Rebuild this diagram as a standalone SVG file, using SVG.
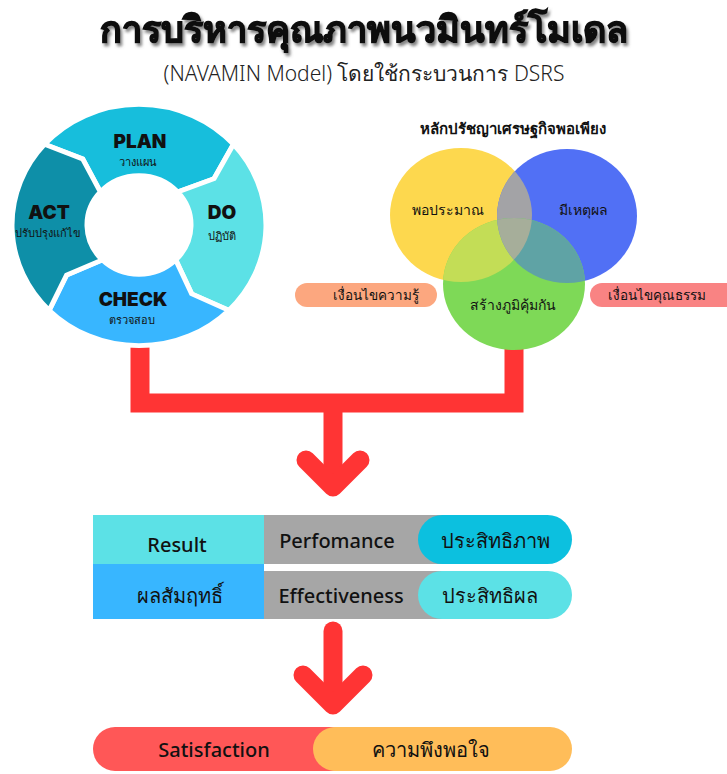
<svg xmlns="http://www.w3.org/2000/svg" width="727" height="774" viewBox="0 0 727 774">
<defs>
<style>
text{font-family:"Noto Sans","DejaVu Sans",sans-serif;fill:#111;text-anchor:middle}
.title{font-size:36px;font-weight:900;stroke:#111;stroke-width:1.3}
.sub{font-size:21px;font-weight:300;fill:#222}
.pd{font-family:Inter,"Noto Sans",sans-serif;font-weight:900;font-size:19px}
.pdt{font-size:11px}
.vt{font-size:15px;font-weight:800}
.vl{font-size:14px}
.pl{font-size:13.5px}
.tb{font-size:20px;font-weight:500}
.seg{stroke:#fff;stroke-width:5;stroke-linejoin:miter}
.red{fill:none;stroke:#FF3434;stroke-width:19}
</style>
<filter id="sh" x="-5%" y="-20%" width="110%" height="160%">
<feDropShadow dx="2" dy="3" stdDeviation="1.5" flood-color="#777" flood-opacity="0.9"/>
</filter>
<clipPath id="cy"><ellipse cx="461" cy="215" rx="71" ry="67"/></clipPath>
<clipPath id="cb"><ellipse cx="567" cy="216" rx="70" ry="67"/></clipPath>
<clipPath id="cg"><ellipse cx="514" cy="284" rx="71" ry="66"/></clipPath>
</defs>
<rect width="727" height="774" fill="#fff"/>

<g id="title">
<text class="title" x="364" y="42" filter="url(#sh)">การบริหารคุณภาพนวมินทร์โมเดล</text>
<text class="sub" x="364" y="81">(NAVAMIN Model) โดยใช้กระบวนการ DSRS</text>
</g>

<g id="connectors">
<path class="red" d="M140 335 V403 H514 V340" stroke-linejoin="miter"/>
<path class="red" d="M333 403 V480"/>
<path class="red" d="M306 460 L333 487 L360 460" stroke-linecap="round" stroke-linejoin="round"/>
<path class="red" d="M333 631 V700" stroke-linecap="round"/>
<path class="red" d="M303 675 L333 705 L363 675" stroke-linecap="round" stroke-linejoin="round"/>
</g>

<g id="pdca">
<g transform="translate(139,225) scale(1,0.95)">
<path id="plan" class="seg" fill="#17BEDC" d="M-94.37 -84.98 A127 127 0 0 1 94.37 -84.98 L75.06 -48.74 L38.64 -34.79 A52 52 0 0 0 -38.64 -34.79 L-56.32 -69.55 Z"/>
<path id="do" class="seg" fill="#5CE1E6" d="M94.37 -84.98 A127 127 0 0 1 89.80 89.80 L52.61 72.41 L36.77 36.77 A52 52 0 0 0 38.64 -34.79 L75.06 -48.74 Z"/>
<path id="check" class="seg" fill="#38B6FF" d="M89.80 89.80 A127 127 0 0 1 -89.80 89.80 L-72.41 52.61 L-36.77 36.77 A52 52 0 0 0 36.77 36.77 L52.61 72.41 Z"/>
<path id="act" class="seg" fill="#0E8FA8" d="M-89.80 89.80 A127 127 0 0 1 -94.37 -84.98 L-56.32 -69.55 L-38.64 -34.79 A52 52 0 0 0 -36.77 36.77 L-72.41 52.61 Z"/>
</g>
<text class="pd" x="140" y="148">PLAN</text>
<text class="pdt" x="138" y="166">วางแผน</text>
<text class="pd" x="49" y="219">ACT</text>
<text class="pdt" x="48" y="237">ปรับปรุงแก้ไข</text>
<text class="pd" x="222" y="219">DO</text>
<text class="pdt" x="222" y="240">ปฏิบัติ</text>
<text class="pd" x="133" y="306">CHECK</text>
<text class="pdt" x="132" y="324">ตรวจสอบ</text>
</g>

<g id="venn">
<text class="vt" x="513" y="134">หลักปรัชญาเศรษฐกิจพอเพียง</text>
<ellipse cx="461" cy="215" rx="71" ry="67" fill="#FDD84E"/>
<ellipse cx="567" cy="216" rx="70" ry="67" fill="#5170F5"/>
<g clip-path="url(#cy)"><ellipse cx="567" cy="216" rx="70" ry="67" fill="#A3A3A6"/></g>
<ellipse cx="514" cy="284" rx="71" ry="66" fill="#7ED957"/>
<g clip-path="url(#cy)"><ellipse cx="514" cy="284" rx="71" ry="66" fill="#C3DD56"/></g>
<g clip-path="url(#cb)"><ellipse cx="514" cy="284" rx="71" ry="66" fill="#5FA3A5"/></g>
<g clip-path="url(#cy)"><g clip-path="url(#cb)"><ellipse cx="514" cy="284" rx="71" ry="66" fill="#A6AE9A"/></g></g>
<text class="vl" x="448" y="215">พอประมาณ</text>
<text class="vl" x="583" y="215">มีเหตุผล</text>
<text class="vl" x="513" y="310">สร้างภูมิคุ้มกัน</text>
</g>

<g id="cond-knowledge">
<rect x="295" y="283" width="142" height="24" rx="12" fill="#FCA77F"/>
<text class="pl" x="376" y="300">เงื่อนไขความรู้</text>
</g>
<g id="cond-moral">
<rect x="590" y="283" width="150" height="24" rx="12" fill="#F98383"/>
<text class="pl" x="657" y="300">เงื่อนไขคุณธรรม</text>
</g>

<g id="table">
<rect x="93" y="515" width="171" height="49" fill="#5CE1E6"/>
<rect x="93" y="564" width="171" height="55" fill="#38B6FF"/>
<rect x="264" y="515" width="180" height="49" fill="#A6A6A6"/>
<rect x="264" y="571" width="180" height="48" fill="#A6A6A6"/>
<rect x="418" y="515" width="154" height="49" rx="24.5" fill="#0CC0DF"/>
<rect x="418" y="571" width="154" height="48" rx="24" fill="#5CE1E6"/>
<text class="tb" x="177" y="552">Result</text>
<text class="tb" x="337" y="548">Perfomance</text>
<text class="tb" x="495" y="548">ประสิทธิภาพ</text>
<text class="tb" x="180" y="603">ผลสัมฤทธิ์</text>
<text class="tb" x="341" y="603">Effectiveness</text>
<text class="tb" x="490" y="603">ประสิทธิผล</text>
</g>

<g id="satisfaction">
<rect x="93" y="727" width="260" height="44" rx="22" fill="#FF5757"/>
<rect x="313" y="727" width="259" height="44" rx="22" fill="#FFBD59"/>
<text class="tb" x="214" y="757">Satisfaction</text>
<text class="tb" x="431" y="757">ความพึงพอใจ</text>
</g>
</svg>
